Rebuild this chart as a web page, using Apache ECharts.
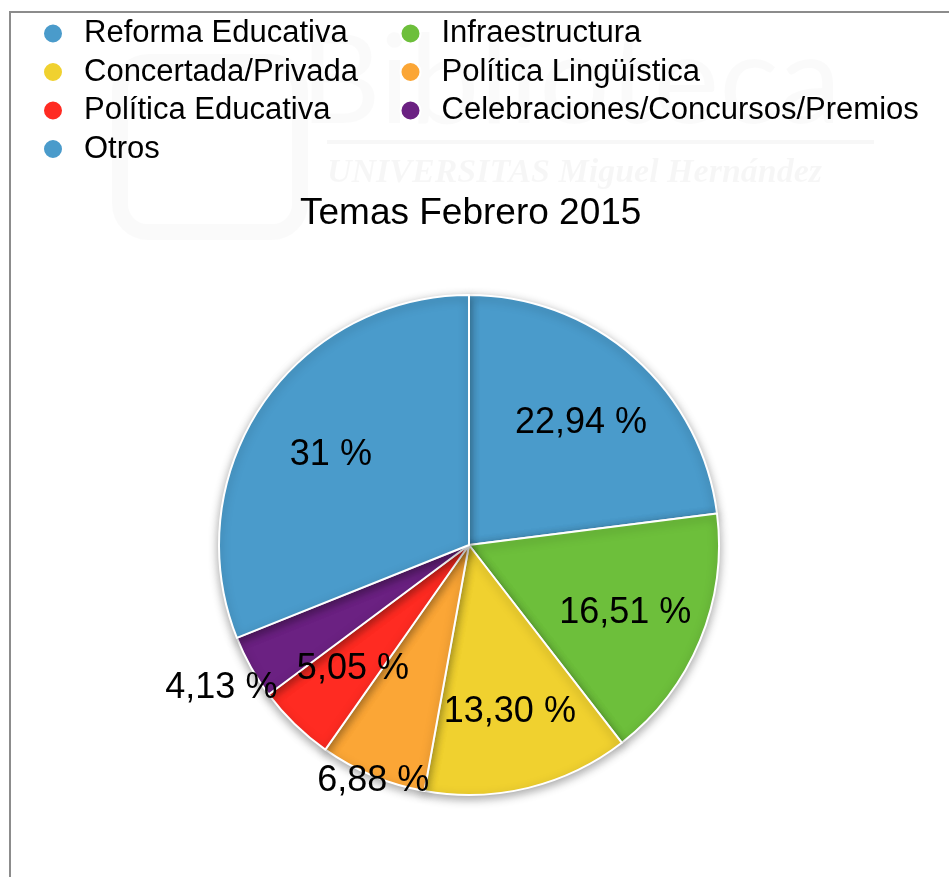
<!DOCTYPE html>
<html>
<head>
<meta charset="utf-8">
<title>Temas Febrero 2015</title>
<script src="https://cdn.jsdelivr.net/npm/echarts@6/dist/echarts.min.js"></script>
<style>
    html, body { margin: 0; padding: 0; background: #fff; }
    #chart { width: 949px; height: 877px; }
</style>
</head>
<body>
<div id="chart"></div>
<script>
// datos
const categories = [
    'Reforma Educativa',
    'Infraestructura',
    'Concertada/Privada',
    'Política Lingüística',
    'Política Educativa',
    'Celebraciones/Concursos/Premios',
    'Otros'
];
const values = [22.94, 16.51, 13.30, 6.88, 5.05, 4.13, 31];
const colors = ['#4a9bcb', '#6dbf3b', '#f0d12f', '#fba636', '#ff2b22', '#6b2182', '#4a9bcb'];

// etiquetas que van fuera del anillo normal
const outerLabelA = ['Política Lingüística'];
const outerLabelB = ['Celebraciones/Concursos/Premios'];

const FONT = '"Liberation Sans", Arial, Helvetica, sans-serif';
const CENTER = [469, 545];
const LABEL_CENTER = [470, 549];

function fmt(v) {
    return (Number.isInteger(v) ? String(v) : v.toFixed(2).replace('.', ',')) + ' %';
}

function labelSeries(radius, names) {
    return {
        type: 'pie',
        center: LABEL_CENTER,
        radius: radius,
        silent: true,
        z: 5,
        itemStyle: { color: 'transparent', borderWidth: 0 },
        emphasis: { disabled: true },
        labelLine: { show: false },
        label: {
            show: true,
            position: 'inside',
            color: '#000',
            fontSize: 36,
            fontFamily: FONT,
            formatter: p => fmt(p.value)
        },
        data: categories.map((name, i) => ({
            name: name,
            value: values[i],
            label: { show: names.indexOf(name) >= 0 }
        }))
    };
}

const chart = echarts.init(document.getElementById('chart'), null, { renderer: 'canvas' });

const innerNames = categories.filter(n => outerLabelA.indexOf(n) < 0 && outerLabelB.indexOf(n) < 0);

chart.setOption({
    backgroundColor: '#fff',
    animation: false,
    title: {
        text: 'Temas Febrero 2015',
        left: 300,
        top: 195,
        padding: 0,
        textStyle: { color: '#000', fontSize: 37, fontWeight: 'normal', fontFamily: FONT }
    },
    legend: {
        left: 42,
        top: 18,
        width: 900,
        padding: 0,
        itemGap: 7.5,
        itemWidth: 20,
        itemHeight: 20,
        icon: 'circle',
        selectedMode: false,
        data: categories,
        textStyle: {
            color: '#000',
            fontSize: 31,
            fontFamily: FONT,
            lineHeight: 30,
            width: 308,
            padding: [0, 0, 0, 16]
        }
    },
    graphic: [
        // marca de agua
        {
            type: 'rect', z: -10, silent: true,
            shape: { x: 120, y: 62, width: 180, height: 170, r: 28 },
            style: { fill: 'none', stroke: 'rgba(0,0,0,0.018)', lineWidth: 16 }
        },
        {
            type: 'text', z: -10, silent: true, left: 300, top: 20,
            style: { text: 'Biblioteca', fill: 'rgba(0,0,0,0.02)', font: '125px Lato, sans-serif' }
        },
        {
            type: 'rect', z: -10, silent: true,
            shape: { x: 327, y: 140, width: 547, height: 4 },
            style: { fill: 'rgba(0,0,0,0.03)' }
        },
        {
            type: 'text', z: -10, silent: true, left: 327, top: 156,
            style: { text: 'UNIVERSITAS Miguel Hernández', fill: 'rgba(0,0,0,0.035)', font: 'italic bold 34px "Liberation Serif", serif' }
        },
        // marco
        {
            type: 'polyline', z: 10, silent: true,
            shape: { points: [[10, 877], [10, 12], [949, 12]] },
            style: { fill: 'none', stroke: '#8c8c8c', lineWidth: 2 }
        }
    ],
    series: [
        {
            type: 'pie',
            center: CENTER,
            radius: 250,
            startAngle: 90,
            clockwise: true,
            silent: true,
            label: { show: false },
            labelLine: { show: false },
            emphasis: { disabled: true },
            itemStyle: {
                borderColor: '#fff',
                borderWidth: 2,
                shadowBlur: 10,
                shadowOffsetY: 3,
                shadowColor: 'rgba(0,0,0,0.35)'
            },
            data: categories.map((name, i) => ({
                name: name,
                value: values[i],
                itemStyle: { color: colors[i] }
            }))
        },
        labelSeries([80, 250], innerNames),
        labelSeries([247, 249], outerLabelA),
        labelSeries([281, 283], outerLabelB)
    ]
});
</script>
</body>
</html>
